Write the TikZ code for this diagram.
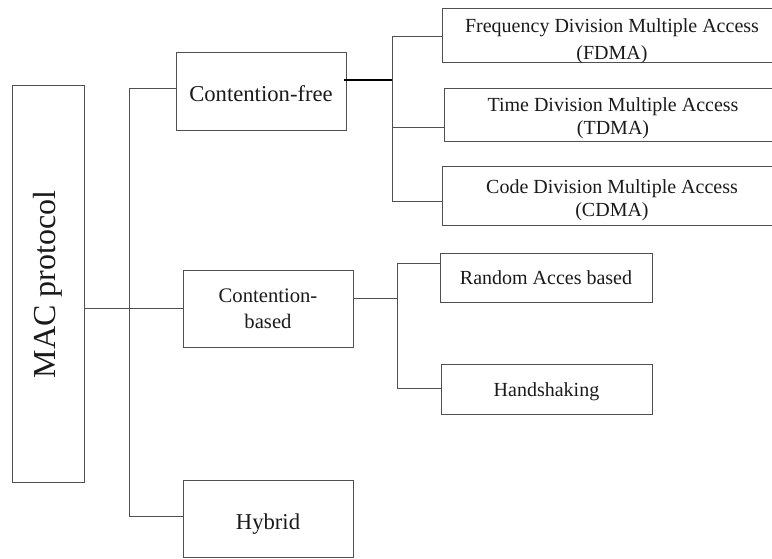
\documentclass[tikz,border=0pt]{standalone}
\usepackage{fontspec}
\setmainfont{Liberation Serif}
\definecolor{edge}{HTML}{505050}
\definecolor{ink}{HTML}{1A1A1A}
% a centred block of lines, drawn a little lower than its box centre
\newcommand\loweredtext[2]{\raisebox{-#1}[\height][\depth]{\begin{tabular}{@{}c@{}}#2\end{tabular}}}
\tikzset{
  box/.style={draw=edge, line width=0.75pt, inner sep=0pt, align=center, text=ink},
  link/.style={draw=edge, line width=0.75pt},
  heavylink/.style={draw=black, line width=1.4pt},
}
\begin{document}
\begin{tikzpicture}[x=0.75pt, y=-0.75pt]
  \useasboundingbox (0,0) rectangle (772,559);
  \clip (0,0) rectangle (772,559);

  % root
  \node[box, minimum width=297.75pt, minimum height=53.625pt, rotate=90,
        font=\fontsize{24}{28}\selectfont] (mac) at (48.25,284.5) {MAC protocol};

  % first level
  \node[box, minimum width=127.5pt, minimum height=58.5pt,
        font=\fontsize{17}{20}\selectfont] (cf) at (261,92)
        {\loweredtext{3.5pt}{Contention-free}};
  \node[box, minimum width=127.5pt, minimum height=58.1pt,
        font=\fontsize{15.5}{19}\selectfont] (cb) at (268,308.75) {Contention-\\based};
  \node[box, minimum width=127.5pt, minimum height=57.75pt,
        font=\fontsize{17}{20}\selectfont] (hy) at (268,519.5)
        {\loweredtext{3.5pt}{Hybrid}};

  % second level, contention-free
  \node[box, minimum width=255pt, minimum height=39.75pt,
        font=\fontsize{15}{20.5}\selectfont] (fdma) at (612,35.5)
        {\loweredtext{4pt}{Frequency Division Multiple Access\\(FDMA)}};
  \node[box, minimum width=253.5pt, minimum height=39.75pt,
        font=\fontsize{15}{17.5}\selectfont] (tdma) at (613,115.5)
        {\loweredtext{2.25pt}{Time Division Multiple Access\\(TDMA)}};
  \node[box, minimum width=255pt, minimum height=44.25pt,
        font=\fontsize{15}{17.5}\selectfont] (cdma) at (612,196.5)
        {\loweredtext{3pt}{Code Division Multiple Access\\(CDMA)}};

  % second level, contention-based
  \node[box, minimum width=159pt, minimum height=37.1pt,
        font=\fontsize{15}{18}\selectfont] (ra) at (546,277.75)
        {\loweredtext{1.5pt}{Random Acces based}};
  \node[box, minimum width=158.25pt, minimum height=37.5pt,
        font=\fontsize{15}{18}\selectfont] (hs) at (546.5,389.5)
        {\loweredtext{1.5pt}{Handshaking}};

  % bends of the connectors
  \coordinate (tA) at (129,89);
  \coordinate (tB) at (129,517);
  \coordinate (fM) at (392,80);
  \coordinate (fA) at (392,37);
  \coordinate (fT) at (392,128);
  \coordinate (fB) at (392,202);
  \coordinate (bM) at (397,299);
  \coordinate (bA) at (397,264);
  \coordinate (bB) at (397,389);

  % root to first level
  \draw[link] (mac.south |- cb.west) -- (cb.west);
  \draw[link] (cf.west |- tA) -- (tA) -- (tB) -- (hy.west |- tB);

  % contention-free branches
  \draw[heavylink] ([xshift=-2pt]cf.east |- fM) -- (fM);
  \draw[link] (fA) -- (fB);
  \draw[link] (fA) -- (fdma.west |- fA);
  \draw[link] (fT) -- (tdma.west |- fT);
  \draw[link] (fB) -- (cdma.west |- fB);

  % contention-based branches
  \draw[link] (cb.east |- bM) -- (bM);
  \draw[link] (bA) -- (bB);
  \draw[link] (bA) -- (ra.west |- bA);
  \draw[link] (bB) -- (hs.west |- bB);
\end{tikzpicture}
\end{document}
